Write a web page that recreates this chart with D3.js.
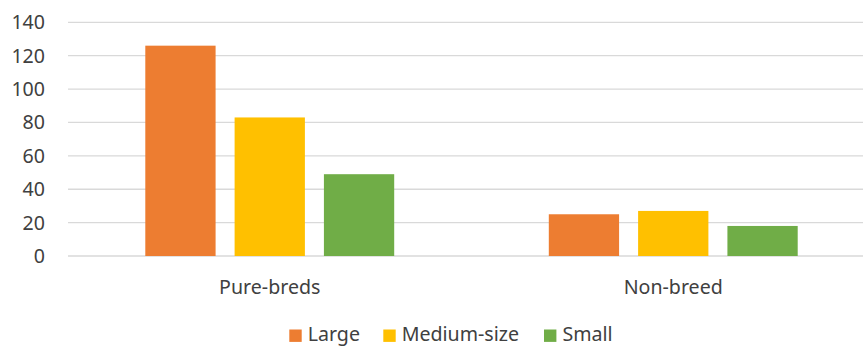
<!DOCTYPE html>
<html>
<head>
<meta charset="utf-8">
<script src="https://cdn.jsdelivr.net/npm/d3@7"></script>
<style>
  html, body { margin: 0; padding: 0; background: #fff; }
  svg { display: block; font-family: "Noto Sans", "Open Sans", sans-serif; }
</style>
</head>
<body>
<svg id="chart" width="863" height="347"></svg>
<script>
// Dog counts by breed type and size
const categories = ["Pure-breds", "Non-breed"];
const seriesNames = ["Large", "Medium-size", "Small"];
const large = [126, 25];
const medium = [83, 27];
const small = [49, 18];
const yTicks = [0, 20, 40, 60, 80, 100, 120, 140];
const colors = ["#ED7D31", "#FFC000", "#70AD47"];

const seriesValues = [large, medium, small];
const rows = categories.map((c, i) => ({
  category: c,
  values: seriesNames.map((s, j) => ({ series: s, value: seriesValues[j][i], idx: j }))
}));

const svg = d3.select("#chart");
const plotLeft = 68, plotRight = 875, plotTop = 22.3, plotBottom = 256;

const y = d3.scaleLinear().domain([0, 140]).range([plotBottom, plotTop]);
const x0 = d3.scaleBand().domain(categories).range([plotLeft, plotRight])
  .paddingInner(0.336).paddingOuter(0.168);
const x1 = d3.scaleBand().domain(seriesNames).range([0, x0.bandwidth()])
  .paddingInner(0.213).paddingOuter(0.1065);

// gridlines
svg.append("g").selectAll("line").data(yTicks).join("line")
  .attr("x1", plotLeft).attr("x2", plotRight)
  .attr("y1", d => y(d)).attr("y2", d => y(d))
  .attr("stroke", "#d9d9d9").attr("stroke-width", 1.3);

// y tick labels
svg.append("g").selectAll("text").data(yTicks).join("text")
  .attr("x", 45).attr("y", d => y(d) + 7)
  .attr("text-anchor", "end")
  .attr("font-size", 19.6).attr("fill", "#404040")
  .text(d => d);

// bars
const groups = svg.append("g").selectAll("g").data(rows).join("g")
  .attr("transform", d => `translate(${x0(d.category)},0)`);
groups.selectAll("rect").data(d => d.values).join("rect")
  .attr("x", d => x1(d.series))
  .attr("width", x1.bandwidth())
  .attr("y", d => y(d.value))
  .attr("height", d => y(0) - y(d.value))
  .attr("fill", d => colors[d.idx]);

// category labels
svg.append("g").selectAll("text").data(categories).join("text")
  .attr("x", d => x0(d) + x0.bandwidth() / 2)
  .attr("y", 294)
  .attr("text-anchor", "middle")
  .attr("font-size", 19.6).attr("fill", "#404040")
  .text(d => d);

// legend
const legendX = [289.3, 383.3, 544];
const legend = svg.append("g").selectAll("g").data(seriesNames).join("g")
  .attr("transform", (d, i) => `translate(${legendX[i]},0)`);
legend.append("rect")
  .attr("x", 0).attr("y", 329.5).attr("width", 12.4).attr("height", 12.4)
  .attr("fill", (d, i) => colors[i]);
legend.append("text")
  .attr("x", 18.4).attr("y", 341.3)
  .attr("font-size", 19.6).attr("fill", "#404040")
  .text(d => d);
</script>
</body>
</html>
